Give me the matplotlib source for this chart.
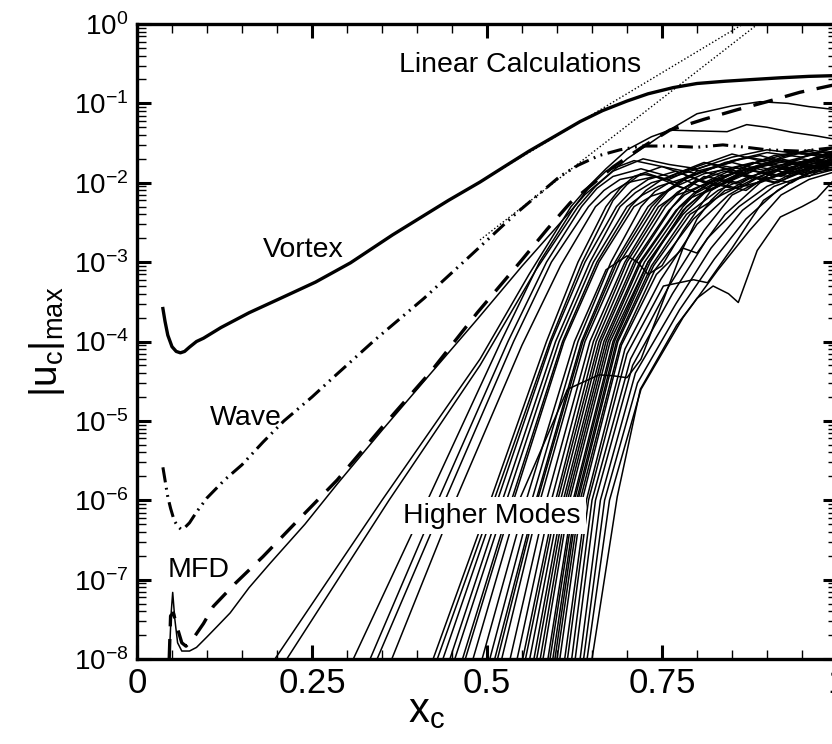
import matplotlib
matplotlib.use("Agg")
import matplotlib.pyplot as plt
from matplotlib.ticker import FixedLocator, MultipleLocator, LogLocator, NullFormatter

plt.rcParams['font.family'] = ['Liberation Sans', 'DejaVu Sans']
plt.rcParams['mathtext.fontset'] = 'custom'
plt.rcParams['mathtext.rm'] = 'Liberation Sans'
plt.rcParams['mathtext.it'] = 'Liberation Sans:italic'
plt.rcParams['mathtext.bf'] = 'Liberation Sans:bold'
plt.rcParams['mathtext.default'] = 'regular'

# ---------------- data ----------------
x_tick_values = [0, 0.25, 0.5, 0.75, 1.0]
x_tick_labels = ['0', '0.25', '0.5', '0.75', '1']

vortex_x = [0.037, 0.04, 0.044, 0.05, 0.056, 0.062, 0.068, 0.075, 0.085, 0.095, 0.12, 0.16, 0.205,
            0.255, 0.305, 0.365, 0.445, 0.49, 0.525, 0.56, 0.6, 0.633, 0.665, 0.7, 0.73, 0.766,
            0.8, 0.84, 0.88, 0.919, 0.96, 1.0]
vortex_u = [2.6e-4, 1.8e-4, 1.2e-4, 8.6e-5, 7.5e-5, 7.2e-5, 7.5e-5, 8.5e-5, 1.0e-4, 1.1e-4, 1.5e-4, 2.3e-4, 3.5e-4,
            5.6e-4, 9.8e-4, 2.2e-3, 6.0e-3, 1.02e-2, 1.6e-2, 2.5e-2, 4.0e-2, 5.9e-2, 8.1e-2, 1.07e-1, 1.32e-1, 1.58e-1,
            1.78e-1, 1.9e-1, 2.0e-1, 2.1e-1, 2.19e-1, 2.24e-1]

wave_x = [0.037, 0.04, 0.044, 0.048, 0.053, 0.058, 0.063, 0.068, 0.075, 0.085, 0.1, 0.125, 0.15, 0.18,
          0.21, 0.25, 0.28, 0.34, 0.41, 0.476, 0.54, 0.604, 0.63, 0.66, 0.69, 0.72, 0.76, 0.80, 0.837,
          0.87, 0.9, 0.95, 1.0]
wave_u = [2.6e-6, 1.8e-6, 1.1e-6, 7.9e-7, 5.6e-7, 4.7e-7, 4.3e-7, 4.5e-7, 5.2e-7, 7.1e-7, 1.07e-6, 1.8e-6, 2.8e-6, 5.4e-6,
          1.0e-5, 2.0e-5, 3.5e-5, 1.05e-4, 3.5e-4, 1.2e-3, 4.0e-3, 1.2e-2, 1.66e-2, 2.2e-2, 2.6e-2, 2.9e-2, 2.9e-2, 2.8e-2, 3.0e-2,
          2.8e-2, 2.6e-2, 2.5e-2, 2.8e-2]

mfd_dash_x = [0.046, 0.048, 0.052, 0.058, 0.064, 0.07, 0.08, 0.095, 0.109, 0.14, 0.18, 0.23, 0.286,
              0.35, 0.42, 0.486, 0.55, 0.586, 0.619, 0.68, 0.72, 0.761, 0.81, 0.857, 0.9, 0.947, 1.0]
mfd_dash_u = [1.0e-8, 3.5e-8, 3.8e-8, 2.4e-8, 1.6e-8, 1.45e-8, 1.8e-8, 2.8e-8, 4.6e-8, 8.9e-8, 1.95e-7, 5.6e-7, 1.8e-6,
              8.3e-6, 4.2e-5, 2.3e-4, 1.07e-3, 2.6e-3, 5.6e-3, 1.58e-2, 2.75e-2, 4.6e-2, 6.3e-2, 8.3e-2, 1.05e-1, 1.38e-1, 1.74e-1]

mfd_solid_x = [0.046, 0.049, 0.051, 0.054, 0.058, 0.064, 0.075, 0.085, 0.1, 0.115, 0.133, 0.16, 0.19,
               0.24, 0.286, 0.35, 0.42, 0.486, 0.55, 0.6, 0.64, 0.7, 0.76, 0.8, 0.85, 0.89, 0.93, 0.96, 1.0]
mfd_solid_u = [1.0e-8, 4.0e-8, 6.9e-8, 3.2e-8, 1.6e-8, 1.26e-8, 1.26e-8, 1.4e-8, 1.9e-8, 2.6e-8, 3.8e-8, 7.9e-8, 1.6e-7,
               5.0e-7, 1.6e-6, 7.6e-6, 4.0e-5, 1.9e-4, 8.9e-4, 2.8e-3, 7.1e-3, 2.0e-2, 4.6e-2, 7.4e-2, 9.3e-2, 1.05e-1, 1.0e-1, 9.1e-2, 8.3e-2]

linear_vortex_x = [0.45, 0.866]
linear_vortex_u = [6.3e-3, 1.0]
linear_wave_x = [0.49, 0.887]
linear_wave_u = [1.9e-3, 1.0]

early_modes_x = [
    [0.197, 0.35, 0.49, 0.56, 0.62, 0.645, 0.67, 0.70, 0.735, 0.761, 0.80, 0.843, 0.871, 0.9, 0.937, 0.97, 1.0],
    [0.214, 0.36, 0.49, 0.57, 0.63, 0.655, 0.68, 0.723, 0.76, 0.80, 0.85, 0.9, 0.95, 1.0],
    [0.309, 0.415, 0.52, 0.575, 0.625, 0.647, 0.67, 0.71, 0.75, 0.8, 0.85, 0.9, 0.95, 1.0],
    [0.333, 0.43, 0.53, 0.585, 0.635, 0.657, 0.68, 0.72, 0.76, 0.81, 0.86, 0.91, 0.96, 1.0],
    [0.343, 0.44, 0.538, 0.592, 0.645, 0.667, 0.69, 0.73, 0.77, 0.82, 0.87, 0.92, 0.97, 1.0],
    [0.364, 0.455, 0.55, 0.605, 0.655, 0.677, 0.70, 0.74, 0.78, 0.83, 0.88, 0.93, 0.97, 1.0],
]
early_modes_u = [
    [1e-8, 1e-6, 6e-5, 7e-4, 5e-3, 9e-3, 1.5e-2, 2.6e-2, 3.8e-2, 4.6e-2, 4.5e-2, 4.4e-2, 5.4e-2, 5.0e-2, 4.3e-2, 3.9e-2, 3.5e-2],
    [1e-8, 1e-6, 5e-5, 8e-4, 5e-3, 9e-3, 1.4e-2, 2.0e-2, 1.7e-2, 1.5e-2, 2.1e-2, 2.6e-2, 2.3e-2, 2.5e-2],
    [1e-8, 1e-6, 1e-4, 1e-3, 5e-3, 9e-3, 1.4e-2, 1.9e-2, 1.6e-2, 1.3e-2, 1.9e-2, 2.4e-2, 2.1e-2, 2.8e-2],
    [1e-8, 1e-6, 1e-4, 1e-3, 5e-3, 8.5e-3, 1.2e-2, 1.5e-2, 1.2e-2, 1.8e-2, 1.5e-2, 2.2e-2, 2.5e-2, 2.0e-2],
    [1e-8, 1e-6, 1e-4, 1e-3, 5e-3, 8e-3, 1.1e-2, 1.3e-2, 1.0e-2, 1.5e-2, 2.1e-2, 1.8e-2, 2.3e-2, 2.2e-2],
    [1e-8, 1e-6, 9e-5, 9e-4, 5e-3, 7.5e-3, 1.0e-2, 1.2e-2, 8.5e-3, 1.4e-2, 1.8e-2, 1.5e-2, 2.0e-2, 2.4e-2],
]

mid_modes_x = [
    [0.423, 0.505, 0.585, 0.63, 0.67, 0.69, 0.71, 0.75, 0.79, 0.84, 0.89, 0.94, 1.0],
    [0.429, 0.51, 0.59, 0.636, 0.68, 0.70, 0.72, 0.76, 0.80, 0.85, 0.9, 0.95, 1.0],
    [0.437, 0.515, 0.592, 0.64, 0.685, 0.707, 0.73, 0.77, 0.81, 0.86, 0.91, 0.96, 1.0],
    [0.447, 0.522, 0.598, 0.647, 0.69, 0.712, 0.735, 0.78, 0.82, 0.87, 0.92, 0.96, 1.0],
    [0.454, 0.528, 0.603, 0.652, 0.70, 0.722, 0.745, 0.79, 0.83, 0.88, 0.93, 0.97, 1.0],
    [0.465, 0.535, 0.608, 0.657, 0.705, 0.727, 0.75, 0.79, 0.84, 0.89, 0.94, 1.0],
    [0.469, 0.538, 0.61, 0.66, 0.71, 0.735, 0.76, 0.80, 0.85, 0.9, 0.95, 1.0],
    [0.48, 0.546, 0.615, 0.66, 0.68, 0.70, 0.72, 0.75, 0.78, 0.80, 0.82, 0.86, 0.91, 0.96, 1.0],
    [0.493, 0.556, 0.625, 0.67, 0.70, 0.715, 0.73, 0.75, 0.78, 0.82, 0.87, 0.92, 0.97, 1.0],
    [0.504, 0.564, 0.63, 0.677, 0.72, 0.74, 0.76, 0.80, 0.85, 0.9, 0.95, 1.0],
    [0.511, 0.57, 0.635, 0.683, 0.73, 0.75, 0.77, 0.81, 0.86, 0.91, 0.96, 1.0],
    [0.515, 0.572, 0.637, 0.686, 0.735, 0.757, 0.78, 0.82, 0.87, 0.92, 0.97, 1.0],
    [0.521, 0.576, 0.64, 0.69, 0.74, 0.762, 0.785, 0.83, 0.88, 0.93, 1.0],
    [0.533, 0.585, 0.647, 0.697, 0.745, 0.767, 0.79, 0.835, 0.885, 0.935, 1.0],
    [0.543, 0.592, 0.652, 0.70, 0.75, 0.772, 0.795, 0.84, 0.89, 0.94, 1.0],
    [0.551, 0.598, 0.656, 0.705, 0.755, 0.777, 0.80, 0.85, 0.9, 0.95, 1.0],
    [0.555, 0.601, 0.66, 0.71, 0.76, 0.782, 0.805, 0.85, 0.9, 0.95, 1.0],
    [0.561, 0.605, 0.663, 0.713, 0.765, 0.787, 0.81, 0.86, 0.91, 0.96, 1.0],
    [0.567, 0.609, 0.667, 0.718, 0.77, 0.792, 0.815, 0.865, 0.915, 0.96, 1.0],
    [0.571, 0.612, 0.67, 0.72, 0.775, 0.797, 0.82, 0.87, 0.92, 0.97, 1.0],
    [0.576, 0.615, 0.673, 0.725, 0.78, 0.802, 0.825, 0.875, 0.925, 0.97, 1.0],
    [0.58, 0.618, 0.676, 0.73, 0.785, 0.807, 0.83, 0.88, 0.93, 1.0],
]
mid_modes_u = [
    [1e-8, 1e-6, 1e-4, 1e-3, 5e-3, 8.5e-3, 1.2e-2, 1.6e-2, 1.2e-2, 1.8e-2, 2.2e-2, 1.7e-2, 2.6e-2],
    [1e-8, 1e-6, 1e-4, 1e-3, 6e-3, 9.5e-3, 1.3e-2, 1.1e-2, 1.6e-2, 2.3e-2, 1.8e-2, 2.4e-2, 2.1e-2],
    [1e-8, 1e-6, 1e-4, 1e-3, 5e-3, 8e-3, 1.1e-2, 1.4e-2, 1.0e-2, 1.6e-2, 2.0e-2, 1.6e-2, 1.9e-2],
    [1e-8, 1e-6, 1e-4, 1e-3, 5e-3, 7.5e-3, 1.0e-2, 1.3e-2, 1.7e-2, 1.3e-2, 2.1e-2, 2.6e-2, 2.3e-2],
    [1e-8, 1e-6, 1e-4, 1e-3, 5e-3, 7e-3, 9e-3, 1.2e-2, 9e-3, 1.5e-2, 1.9e-2, 1.5e-2, 1.8e-2],
    [1e-8, 1e-6, 1e-4, 1e-3, 5e-3, 8e-3, 1.1e-2, 1.5e-2, 1.2e-2, 1.9e-2, 2.4e-2, 2.0e-2],
    [1e-8, 1e-6, 1e-4, 1e-3, 5e-3, 6.8e-3, 8e-3, 1.4e-2, 1.8e-2, 1.4e-2, 2.1e-2, 2.9e-2],
    [1e-8, 1e-6, 2.5e-5, 3.8e-5, 3.7e-5, 3.5e-5, 6e-5, 3e-4, 1.5e-3, 3.5e-3, 6e-3, 1.3e-2, 1.0e-2, 1.7e-2, 2.0e-2],
    [1e-8, 1e-6, 1e-4, 8e-4, 1.2e-3, 1.0e-3, 7e-4, 9e-4, 2.5e-3, 8e-3, 1.5e-2, 1.2e-2, 2.0e-2, 1.7e-2],
    [1e-8, 1e-6, 1e-4, 1e-3, 5e-3, 7.8e-3, 1.0e-2, 7.5e-3, 1.3e-2, 1.8e-2, 1.4e-2, 2.2e-2],
    [1e-8, 1e-6, 1e-4, 1e-3, 5e-3, 7.2e-3, 9e-3, 1.3e-2, 1.6e-2, 1.2e-2, 1.9e-2, 2.5e-2],
    [1e-8, 1e-6, 1e-4, 1e-3, 5e-3, 8e-3, 1.1e-2, 8e-3, 1.4e-2, 2.0e-2, 1.6e-2, 1.8e-2],
    [1e-8, 1e-6, 1e-4, 1e-3, 5e-3, 8.5e-3, 1.2e-2, 1.6e-2, 1.1e-2, 1.7e-2, 2.3e-2],
    [1e-8, 1e-6, 1e-4, 1e-3, 5e-3, 6.8e-3, 8e-3, 1.2e-2, 1.6e-2, 1.3e-2, 2.0e-2],
    [1e-8, 1e-6, 1e-4, 1e-3, 5e-3, 7.6e-3, 1.0e-2, 1.4e-2, 1.1e-2, 1.8e-2, 1.5e-2],
    [1e-8, 1e-6, 1e-4, 1e-3, 5e-3, 8e-3, 1.1e-2, 8.5e-3, 1.5e-2, 2.0e-2, 1.7e-2],
    [1e-8, 1e-6, 1e-4, 1e-3, 4.5e-3, 7e-3, 9e-3, 1.3e-2, 1.7e-2, 1.3e-2, 2.1e-2],
    [1e-8, 1e-6, 1e-4, 1e-3, 5e-3, 8.5e-3, 1.2e-2, 1.0e-2, 1.6e-2, 1.9e-2, 2.4e-2],
    [1e-8, 1e-6, 1e-4, 1e-3, 4.5e-3, 6.5e-3, 8e-3, 1.3e-2, 1.0e-2, 1.6e-2, 1.4e-2],
    [1e-8, 1e-6, 1e-4, 1e-3, 5e-3, 7.6e-3, 1.0e-2, 1.5e-2, 1.9e-2, 1.5e-2, 1.8e-2],
    [1e-8, 1e-6, 1e-4, 1e-3, 5e-3, 8e-3, 1.1e-2, 9e-3, 1.4e-2, 2.1e-2, 2.6e-2],
    [1e-8, 1e-6, 1e-4, 1e-3, 5e-3, 7.2e-3, 9e-3, 1.4e-2, 1.2e-2, 1.9e-2],
]

late_modes_x = [
    [0.587, 0.623, 0.68, 0.73, 0.78, 0.82, 0.86, 0.9, 0.95, 1.0],
    [0.59, 0.625, 0.682, 0.733, 0.78, 0.825, 0.87, 0.91, 0.96, 1.0],
    [0.594, 0.628, 0.685, 0.735, 0.785, 0.83, 0.875, 0.92, 0.96, 1.0],
    [0.597, 0.63, 0.687, 0.738, 0.79, 0.835, 0.88, 0.925, 0.965, 1.0],
    [0.6, 0.633, 0.69, 0.74, 0.795, 0.84, 0.885, 0.93, 0.97, 1.0],
    [0.604, 0.636, 0.692, 0.742, 0.78, 0.80, 0.84, 0.89, 0.94, 1.0],
    [0.611, 0.642, 0.697, 0.748, 0.80, 0.845, 0.89, 0.935, 0.97, 1.0],
    [0.615, 0.645, 0.70, 0.752, 0.795, 0.815, 0.85, 0.895, 0.94, 1.0],
    [0.621, 0.65, 0.705, 0.76, 0.81, 0.85, 0.895, 0.94, 1.0],
    [0.626, 0.655, 0.708, 0.765, 0.815, 0.86, 0.9, 0.945, 1.0],
    [0.633, 0.662, 0.712, 0.77, 0.82, 0.865, 0.91, 0.95, 1.0],
    [0.638, 0.668, 0.715, 0.775, 0.825, 0.87, 0.915, 0.955, 1.0],
    [0.643, 0.675, 0.72, 0.78, 0.83, 0.875, 0.92, 0.96, 1.0],
    [0.65, 0.686, 0.719, 0.771, 0.80, 0.823, 0.845, 0.859, 0.886, 0.919, 0.95, 0.971, 1.0],
]
late_modes_u = [
    [1e-8, 1e-6, 1e-4, 1e-3, 4e-3, 9e-3, 1.3e-2, 1.1e-2, 1.7e-2, 2.2e-2],
    [1e-8, 1e-6, 1e-4, 1e-3, 4.5e-3, 1.0e-2, 8e-3, 1.4e-2, 1.8e-2, 1.6e-2],
    [1e-8, 1e-6, 1e-4, 9e-4, 4e-3, 8e-3, 1.2e-2, 1.5e-2, 1.2e-2, 1.9e-2],
    [1e-8, 1e-6, 1e-4, 9e-4, 4e-3, 7e-3, 1.1e-2, 1.6e-2, 2.0e-2, 1.7e-2],
    [1e-8, 1e-6, 9e-5, 8e-4, 3.5e-3, 8e-3, 1.0e-2, 1.4e-2, 1.8e-2, 2.3e-2],
    [1e-8, 1e-6, 9e-5, 7e-4, 1.5e-3, 1.3e-3, 4e-3, 1.0e-2, 1.5e-2, 1.8e-2],
    [1e-8, 1e-6, 8e-5, 6e-4, 3e-3, 7e-3, 1.2e-2, 1.0e-2, 1.5e-2, 1.9e-2],
    [1e-8, 1e-6, 7e-5, 5e-4, 6e-4, 5.5e-4, 1.5e-3, 6e-3, 1.1e-2, 1.5e-2],
    [1e-8, 1e-6, 6e-5, 5e-4, 2.5e-3, 7e-3, 1.1e-2, 1.4e-2, 1.7e-2],
    [1e-8, 1e-6, 5e-5, 4e-4, 2e-3, 5e-3, 9e-3, 1.3e-2, 1.6e-2],
    [1e-8, 1e-6, 4e-5, 3e-4, 1.5e-3, 4.5e-3, 9e-3, 1.2e-2, 1.8e-2],
    [1e-8, 1e-6, 3e-5, 2.5e-4, 1.1e-3, 3.5e-3, 8e-3, 1.3e-2, 1.5e-2],
    [1e-8, 1e-6, 2.5e-5, 2e-4, 8e-4, 2.5e-3, 7e-3, 1.1e-2, 1.4e-2],
    [1e-8, 1.1e-6, 2.5e-5, 1.6e-4, 3.5e-4, 5e-4, 4e-4, 3.1e-4, 1.4e-3, 3.7e-3, 5e-3, 6.3e-3, 1.2e-2],
]

# ---------------- figure ----------------
fig = plt.figure(figsize=(8.32, 7.44), dpi=100)
ax = fig.add_axes([137 / 832, 85 / 744, 700 / 832, 635 / 744])
ax.set_yscale('log')

for xs, us in zip(early_modes_x + mid_modes_x + late_modes_x,
                  early_modes_u + mid_modes_u + late_modes_u):
    ax.plot(xs, us, color='black', lw=1.1, solid_joinstyle='round', zorder=2)

ax.plot(mfd_solid_x, mfd_solid_u, color='black', lw=1.1, solid_joinstyle='round', zorder=2)
ax.plot(linear_vortex_x, linear_vortex_u, color='black', lw=1.0, ls=(0, (1, 1.6)), zorder=3)
ax.plot(linear_wave_x, linear_wave_u, color='black', lw=1.0, ls=(0, (1, 1.6)), zorder=3)
ax.plot(vortex_x, vortex_u, color='black', lw=2.4, solid_joinstyle='round', zorder=4)
ax.plot(wave_x, wave_u, color='black', lw=2.2, ls=(0, (5, 1.8, 0.6, 1.8, 0.6, 1.8)),
        dash_capstyle='butt', zorder=4)
ax.plot(mfd_dash_x, mfd_dash_u, color='black', lw=2.4, ls=(0, (6, 3.8)),
        dash_capstyle='butt', zorder=4)

ax.set_xlim(0, 1)
ax.set_ylim(1e-8, 1)

ax.xaxis.set_major_locator(FixedLocator(x_tick_values))
ax.set_xticklabels(x_tick_labels)
ax.xaxis.set_minor_locator(MultipleLocator(0.05))
ax.yaxis.set_major_locator(LogLocator(base=10, numticks=20))
ax.yaxis.set_minor_locator(LogLocator(base=10, subs=range(2, 10), numticks=20))
ax.yaxis.set_minor_formatter(NullFormatter())

ax.tick_params(which='major', direction='in', length=10, width=2.2, top=True, right=True)
ax.tick_params(which='minor', direction='in', length=6.5, width=1.0, top=True, right=True)
ax.tick_params(axis='x', which='major', labelsize=25, pad=6)
ax.tick_params(axis='y', which='major', labelsize=20, pad=6)

for sp in ax.spines.values():
    sp.set_linewidth(2.4)

ax.set_xlabel(r'$\mathregular{x_c}$', fontsize=30, va='baseline', ha='center')
ax.xaxis.set_label_coords(0.413, -0.1)
ax.set_ylabel(r'$|\mathregular{u_c}|_\mathregular{max}$', fontsize=28, va='center', ha='center')
ax.yaxis.set_label_coords(-0.128, 0.5)

fs = 20.5
ax.text(0.374, 0.248, 'Linear Calculations', fontsize=fs, ha='left', va='baseline', zorder=6)
ax.text(0.18, 1.16e-3, 'Vortex', fontsize=fs, ha='left', va='baseline', zorder=6)
ax.text(0.104, 8.9e-6, 'Wave', fontsize=fs, ha='left', va='baseline', zorder=6)
ax.text(0.044, 1.08e-7, 'MFD', fontsize=fs, ha='left', va='baseline', zorder=6)
ax.text(0.38, 5.2e-7, 'Higher Modes', fontsize=fs, ha='left', va='baseline', zorder=6,
        bbox=dict(facecolor='white', edgecolor='none', pad=4))

fig.savefig('out.png', dpi=100)
